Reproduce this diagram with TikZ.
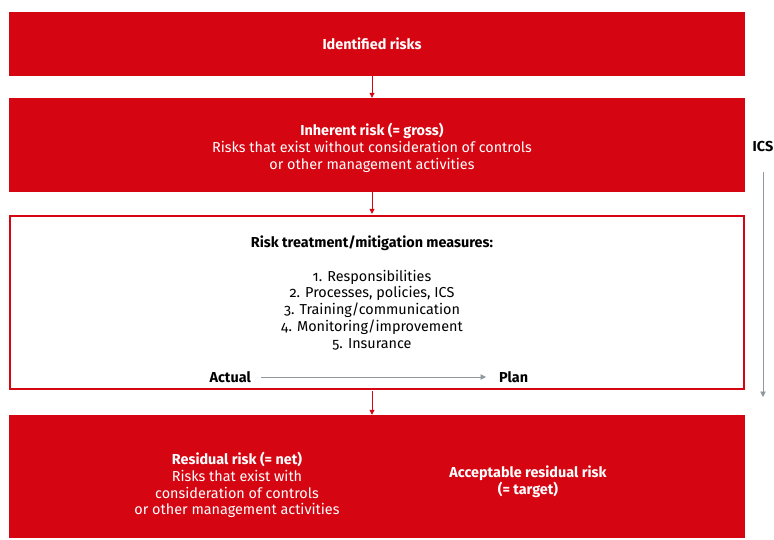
\documentclass[tikz,border=0pt]{standalone}
\usepackage{fontspec}
\setmainfont{Fira Sans}[Numbers=OldStyle]
\usetikzlibrary{arrows.meta}
\definecolor{rred}{HTML}{D50511}
\definecolor{rgray}{HTML}{8E999F}
\begin{document}
\begin{tikzpicture}[x=1pt,y=-1pt,
  redbox/.style={fill=rred, draw=none, minimum width=736pt, text=white, align=center, inner sep=0pt},
  whitebox/.style={draw=rred, line width=2.4pt, fill=white, minimum width=733.6pt},
  txt/.style={align=center, font=\fontsize{14.4}{16.8}\selectfont, inner sep=0pt},
  redarrow/.style={draw=rred, line width=0.8pt, -{Triangle[width=5pt,length=5pt]}},
  grayarrow/.style={draw=rgray, line width=0.9pt, -{Triangle[width=5.5pt,length=5.5pt]}}
]
\useasboundingbox (0,0) rectangle (774,539);
\node[redbox, minimum height=64pt] (b1) at (377,44) {};
\node[txt, text=white] (t1) at (372,44) {\bfseries Identified risks};
\node[redbox, minimum height=94pt] (b2) at (377,145) {};
\node[txt, text=white] (t2) at (372,148) {\bfseries Inherent risk (= gross)\\Risks that exist without consideration of controls\\or other management activities};
\node[whitebox, minimum height=172.6pt] (b3) at (377,302.5) {};
\node[txt] (t3) at (372,243) {\bfseries Risk treatment/mitigation measures:};
\node[txt] (t3list) at (372,310) {1. Responsibilities\\2. Processes, policies, ICS\\3. Training/communication\\4. Monitoring/improvement\\5. Insurance};
\node[txt, anchor=east] (actual) at (251,377) {\bfseries Actual};
\node[txt, anchor=west] (plan) at (499,377) {\bfseries Plan};
\coordinate (as) at (261,377);
\coordinate (pe) at (486,377);
\draw[grayarrow] (as) -- (pe);
\node[redbox, minimum height=123pt] (b4) at (377,476.5) {};
\node[txt, text=white] (t4a) at (237,485) {\bfseries Residual risk (= net)\\Risks that exist with\\consideration of controls\\or other management activities};
\node[txt, text=white] (t4b) at (528,481.5) {\bfseries Acceptable residual risk\\\bfseries (= target)};
\node[txt, anchor=center] (ics) at (763,147) {\bfseries ICS};
\coordinate (icstop) at (763,172);
\coordinate (icsbot) at (763,397);
\draw[grayarrow] (icstop) -- (icsbot);
\draw[redarrow] (b1.south -| t1) -- (b2.north -| t1);
\draw[redarrow] (b2.south -| t1) -- ([yshift=1.2pt]b3.north -| t1);
\draw[redarrow] ([yshift=-1.2pt]b3.south -| t1) -- (b4.north -| t1);
\end{tikzpicture}
\end{document}
